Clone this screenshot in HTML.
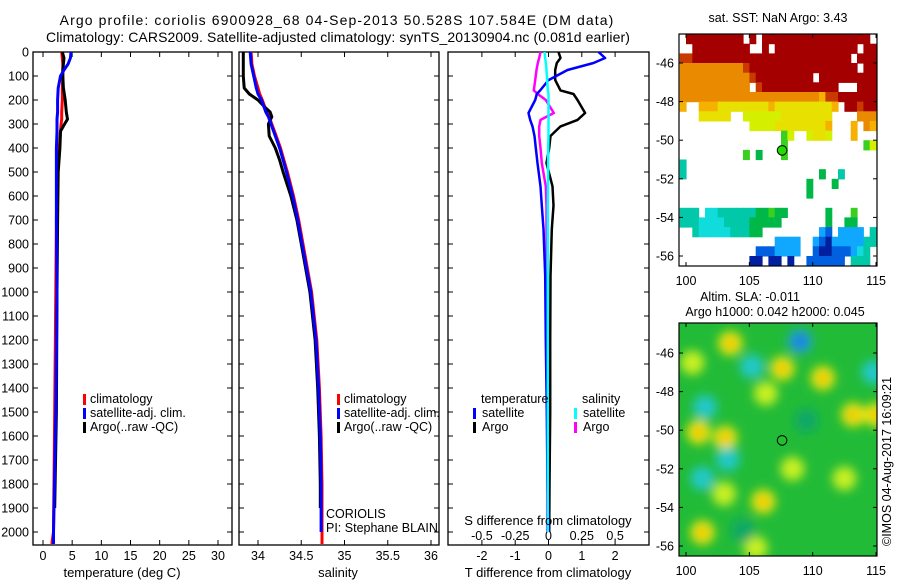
<!DOCTYPE html>
<html><head><meta charset="utf-8">
<style>
html,body{margin:0;padding:0;background:#fff;}
svg{display:block;font-family:"Liberation Sans",sans-serif;}
text{font-size:12.5px;fill:#000;}
</style></head>
<body>
<svg id="fig" width="900" height="580" viewBox="0 0 900 580" xmlns="http://www.w3.org/2000/svg">
<defs>
<filter id="blur" x="-50%" y="-50%" width="200%" height="200%"><feGaussianBlur stdDeviation="5"/></filter>
<clipPath id="clip2"><rect x="679" y="323" width="198" height="233"/></clipPath>
<clipPath id="clip1"><rect x="679" y="34" width="198" height="232"/></clipPath>
</defs>
<text x="337" y="25" text-anchor="middle" style="font-size:14px;letter-spacing:1.1px">Argo profile: coriolis 6900928_68 04-Sep-2013 50.528S 107.584E (DM data)</text>
<text x="338" y="42" text-anchor="middle" style="font-size:14px;letter-spacing:0.1px">Climatology: CARS2009. Satellite-adjusted climatology: synTS_20130904.nc (0.081d earlier)</text>
<g id="layer"></g>
</svg>
<script>
// ---- data ----
const depthT = [0,25,50,75,100,150,200,250,280,300,330,400,500,700,1000,1500,2000,2050];
const climT  = [3.2,3.3,3.4,3.4,3.4,3.3,3.3,3.2,3.2,3.1,3.0,2.8,2.4,2.3,2.2,2.0,1.8,1.5];
const satT   = [4.8,4.7,4.3,3.6,3.0,2.6,2.5,2.5,2.4,2.4,2.4,2.3,2.3,2.3,2.4,2.2,1.8,1.8];
const depthTa= [0,25,50,75,100,150,200,250,280,300,330,400,500,700,1000,1500,1900];
const argoT  = [3.3,3.6,3.5,3.4,3.4,3.5,3.8,4.0,4.2,3.7,3.0,2.9,2.6,2.5,2.4,2.3,2.0];

const depthS = [0,50,100,150,175,200,230,250,270,300,350,400,450,500,600,700,800,1000,1200,1400,1600,1800,2000,2050];
const climS  = [33.92,33.93,33.96,34.0,34.02,34.05,34.08,34.1,34.13,34.16,34.21,34.26,34.3,34.34,34.41,34.47,34.52,34.62,34.68,34.71,34.73,34.74,34.74,34.74];
const satS   = [33.91,33.92,33.95,33.98,34.0,34.04,34.07,34.09,34.12,34.15,34.2,34.25,34.29,34.33,34.4,34.46,34.51,34.61,34.67,34.7,34.72,34.73,34.73,34.73];
const depthSa= [0,50,100,150,175,200,230,250,270,300,350,400,450,500,600,700,800,1000,1200,1400,1600,1800,1900];
const argoS  = [33.83,33.83,33.83,33.84,33.9,34.0,34.08,34.14,34.16,34.12,34.13,34.2,34.25,34.29,34.38,34.45,34.5,34.6,34.66,34.69,34.71,34.72,34.72];

const depthD = [0,25,46,75,117,160,175,200,254,283,310,350,400,463,560,640,738,933,1200,1500,1800,2000];
const satTd  = [1.5,1.7,1.35,0.57,0,-0.25,-0.35,-0.4,-0.6,-0.55,-0.48,-0.42,-0.38,-0.33,-0.24,-0.2,-0.15,-0.1,-0.08,-0.05,-0.03,0];
const argoTd = [0.3,0.36,0.25,0.2,0.2,0.36,0.75,0.87,1.1,0.87,0.36,0.06,0.02,-0.06,0.12,0.15,0.1,0.06,0.05,0.05,0.03,0.02];
const argoSd = [-0.06,-0.07,-0.08,-0.09,-0.1,-0.11,-0.08,-0.02,0.04,-0.06,-0.07,-0.07,-0.06,-0.05,-0.02,-0.015,-0.015,-0.015,-0.01,-0.01,-0.01,-0.01];
const satSd  = [-0.03,-0.025,-0.02,-0.015,-0.01,-0.005,0,0,0,0,0,0,-0.002,-0.003,-0.004,-0.005,-0.005,-0.005,-0.005,-0.005,-0.005,-0.005];

const depthTicks = [0,100,200,300,400,500,600,700,800,900,1000,1100,1200,1300,1400,1500,1600,1700,1800,1900,2000];
const tempTicks = [0,5,10,15,20,25,30];
const salTicks = [34,34.5,35,35.5,36];
const tdTicks = [-2,-1,0,1,2];
const sdTicks = [-0.5,-0.25,0,0.25,0.5];
const sdTickLabels = ["-0.5","-0.25","0","0.25","0.5"];
const latTicks = [-46,-48,-50,-52,-54,-56];
const lonTicks = [100,105,110,115];
const argoLon = 107.584, argoLat = -50.528;

// SST grid rows (0.5 deg lat from -44.5 down, 0.5 deg lon from 99.5)
const sstRows = [
".RRRRRRRRR.R.RRRRRRRRRRRRRRRRR.",
"..RRRRRRRRR..R.RRRRRRRRRRRRR.RR",
"rrRRRRRRRRRRRRRRRRRRRRRRRRR.RRR",
"oooooooooorRRRRRRRRRRRRRRRRR.RR",
"ooooooooooorRRRRRRRRR.RRRRRRRRR",
"ooooooooooo.rRRRRRRRRRRRR...RRR",
"ooooooooooooooooooooooOrrRRRRRR",
"O..OOOyyyyyyyyOyyyyyyyyyO.RRrRR",
"...yyyyy..YYYYYYyyyyyyyy....ooo",
"...........YYYYyyyyyyyyO...O.oO",
"................gY..YyyY...O...",
"................g............gY",
"..........g.G...g.............",
"c..............................",
"c.....................G..c.....",
"....................G...G......",
"....................G..........",
"...............................",
"ccc.CCccccccGGgGG......G...g...",
"cccCCCCccccGGGGG.......G..GG...",
"..cCCCCCcccGG.........bB.bbbb.cc",
"...............bbbb..bBNbbbbbcc",
"............BBBbbbb..BNNBBBbCc.",
"...........NN.NN.N..BBBBBB.ccc."
];
const sstColors = {R:"#a50000",r:"#c83a00",o:"#e98a00",O:"#f5b000",y:"#e8e000",Y:"#d4f000",g:"#3ad020",G:"#00b848",c:"#00c8a8",C:"#10dcdc",b:"#10a8ff",B:"#0060e0",N:"#0020a0"};

// SLA anomaly blobs: lon, lat, value (+ high / - low)
const slaLon = [103.5,109,105.2,107.6,110.8,114.8,106.3,101.5,113.2,115,101,103.1,101.3,103.3,103,106.1,101.3,105.5,108.4,112.5,100.5,109.5,104.5];
const slaLat = [-45.5,-45.4,-46.7,-46.8,-47.3,-47,-48.1,-48.8,-49.2,-49.2,-50.1,-50.4,-52.5,-51.5,-53.3,-53.7,-55.3,-56.1,-52,-52.5,-46.5,-49.5,-55.2];
const slaVal = [2,-2,-1,2,2,-1,1,-1,2,2,2,2,-1.5,-1,1.5,2,2,1.5,1,1,1.5,-0.5,-0.5];

// ---- helpers ----
const NS="http://www.w3.org/2000/svg";
const layer=document.getElementById('layer');
function mk(tag,attrs,parent){const e=document.createElementNS(NS,tag);for(const k in attrs)e.setAttribute(k,attrs[k]);(parent||layer).appendChild(e);return e;}
const Y0=52, Ybot=545, pxPerM=0.24;
const yD = d => Y0 + d*pxPerM;
const xT = t => 43 + t*(175/30);
const xS = s => 258 + (s-34)*86.5;
const xTd = v => 548.5 + v*33.3;
const xSd = v => 548.5 + v*133.2;

function frame(x0,x1,name){
  const r=mk('rect',{x:x0,y:Y0,width:x1-x0,height:Ybot-Y0,fill:'none',stroke:'#000','stroke-width':1.3});
  
  
}
function yTicks(x0,x1,labels){
  depthTicks.forEach(d=>{
    const y=yD(d);
    mk('line',{x1:x0,x2:x0+5,y1:y,y2:y,stroke:'#000'});
    mk('line',{x1:x1,x2:x1-5,y1:y,y2:y,stroke:'#000'});
    if(labels){const t=mk('text',{x:x0-4,y:y+4.5,'text-anchor':'end'});t.textContent=d;
      
      }
  });
}
function xTicksFn(vals,fx,x0,x1,labY,lbls){
  vals.forEach((v,i)=>{const x=fx(v);
    mk('line',{x1:x,x2:x,y1:Ybot,y2:Ybot-5,stroke:'#000'});
    mk('line',{x1:x,x2:x,y1:Y0,y2:Y0+5,stroke:'#000'});
    if(labY){const t=mk('text',{x:x,y:labY,'text-anchor':'middle'});t.textContent=lbls?lbls[i]:v;
      
      }
  });
}
function line(xs,ds,fx,color,w,name){
  const pts=xs.map((v,i)=>fx(v).toFixed(1)+','+yD(ds[i]).toFixed(1)).join(' ');
  const p=mk('polyline',{points:pts,fill:'none',stroke:color,'stroke-width':w,'stroke-linejoin':'round'});
  
  
}
function txt(x,y,s,name,anchor,size){const t=mk('text',{x:x,y:y,'text-anchor':anchor||'start'});if(size)t.style.fontSize=size+'px';t.textContent=s;
  
  
  return t;}
function legMark(x,y,c,name){const r=mk('rect',{x:x,y:y-10,width:3,height:11,fill:c});
  
  }

// ---- panel 1 temperature ----
frame(33,232,'temperature-axes');
yTicks(33,232,true);
xTicksFn(tempTicks,xT,33,232,560);
line(climT,depthT,xT,'#ff0000',3,'temperature-climatology-line');
line(argoT,depthTa,xT,'#000000',3,'temperature-argo-line');
line(satT,depthT,xT,'#0000ff',3,'temperature-satellite-line');
txt(122,577,'temperature (deg C)','x-axis-title-temperature','middle',13);
legMark(83,404,'#ff0000','legend-climatology-marker');txt(90,403,'climatology','legend-climatology');
legMark(83,418,'#0000ff','legend-satellite-marker');txt(90,417,'satellite-adj. clim.','legend-satellite');
legMark(83,432,'#000','legend-argo-marker');txt(90,431,'Argo(..raw -QC)','legend-argo');

// ---- panel 2 salinity ----
frame(239,439,'salinity-axes');
yTicks(239,439,false);
xTicksFn(salTicks,xS,239,439,560);
line(climS,depthS,xS,'#ff0000',3,'salinity-climatology-line');
line(argoS,depthSa,xS,'#000000',3,'salinity-argo-line');
line(satS.slice(0,23),depthS.slice(0,23),xS,'#0000ff',3,'salinity-satellite-line');
txt(338,577,'salinity','x-axis-title-salinity','middle',13);
legMark(337,404,'#ff0000','legend2-climatology-marker');txt(344,403,'climatology','legend2-climatology');
legMark(337,418,'#0000ff','legend2-satellite-marker');txt(344,417,'satellite-adj. clim.','legend2-satellite');
legMark(337,432,'#000','legend2-argo-marker');txt(344,431,'Argo(..raw -QC)','legend2-argo');
txt(326,518,'CORIOLIS','float-agency-label');
txt(326,532,'PI: Stephane BLAIN','float-pi-label');

// ---- panel 3 differences ----
frame(448,649,'difference-axes');
yTicks(448,649,false);
sdTicks.forEach(v=>{const x=xSd(v);mk('line',{x1:x,x2:x,y1:Y0,y2:Y0+5,stroke:'#000'});});
tdTicks.forEach((v,i)=>{const x=xTd(v);mk('line',{x1:x,x2:x,y1:Ybot,y2:Ybot-5,stroke:'#000'});
  const t=mk('text',{x:x,y:560,'text-anchor':'middle'});t.textContent=v;
  
  });
sdTicks.forEach((v,i)=>{const t=mk('text',{x:xSd(v),y:540,'text-anchor':'middle'});t.textContent=sdTickLabels[i];
  
  });
line(argoTd,depthD,xTd,'#000000',2.5,'argo-temperature-difference-line');
line(argoSd,depthD,xSd,'#ff00ff',2.5,'argo-salinity-difference-line');
line(satTd,depthD,xTd,'#0000ff',2.5,'satellite-temperature-difference-line');
line(satSd,depthD,xSd,'#00ffff',2.5,'satellite-salinity-difference-line');
txt(548,525,'S difference from climatology','s-diff-axis-title','middle',13);
txt(548,577,'T difference from climatology','t-diff-axis-title','middle',13);
txt(481,403,'temperature','legend3-temperature-heading');
legMark(473,418,'#0000ff','legend3-t-satellite-marker');txt(482,417,'satellite','legend3-t-satellite');
legMark(473,432,'#000','legend3-t-argo-marker');txt(482,431,'Argo','legend3-t-argo');
txt(582,403,'salinity','legend3-salinity-heading');
legMark(574,418,'#00ffff','legend3-s-satellite-marker');txt(583,417,'satellite','legend3-s-satellite');
legMark(574,432,'#ff00ff','legend3-s-argo-marker');txt(583,431,'Argo','legend3-s-argo');

// ---- maps ----
const lonX = lon => 686 + (lon-100)*12.67;
const lat1Y = lat => 63 + (-46-lat)*19.3;
const lat2Y = lat => 353 + (-46-lat)*19.3;

// SST map
const gSst=mk('g',{'clip-path':'url(#clip1)'});


sstRows.forEach((row,ri)=>{
  const latTop=-44.5-ri*0.5;
  for(let ci=0;ci<row.length;ci++){
    const ch=row[ci]; if(ch==='.')continue;
    const lon=99.5+ci*0.5;
    const x=lonX(lon), y=lat1Y(latTop);
    const r=mk('rect',{x:x.toFixed(1),y:y.toFixed(1),width:6.9,height:10.2,fill:sstColors[ch]},gSst);
    
    
  }
});
function mapFrame(y0,h,latY,name,labY){
  const r=mk('rect',{x:679,y:y0,width:198,height:h,fill:'none',stroke:'#000','stroke-width':1.2});
  
  
  latTicks.forEach(l=>{const y=latY(l);mk('line',{x1:679,x2:683,y1:y,y2:y,stroke:'#000'});mk('line',{x1:877,x2:873,y1:y,y2:y,stroke:'#000'});
    const t=mk('text',{x:674,y:y+4.5,'text-anchor':'end'});t.textContent=l;
    
    });
  lonTicks.forEach(l=>{const x=lonX(l);mk('line',{x1:x,x2:x,y1:y0+h,y2:y0+h-4,stroke:'#000'});mk('line',{x1:x,x2:x,y1:y0,y2:y0+4,stroke:'#000'});
    const t=mk('text',{x:x,y:labY,'text-anchor':'middle'});t.textContent=l;
    
    });
}
mapFrame(34,232,lat1Y,'sst-map-frame',285);
const m1=mk('circle',{cx:lonX(argoLon),cy:lat1Y(argoLat),r:4.8,fill:'#22dd00',stroke:'#000','stroke-width':1});


txt(778,22,'sat. SST: NaN Argo: 3.43','sst-map-title','middle',12.5);

// SLA map
const gSla=mk('g',{'clip-path':'url(#clip2)'});


mk('rect',{x:679,y:323,width:198,height:233,fill:'#22bb38'},gSla);
const gBl=mk('g',{filter:'url(#blur)'},gSla);
slaLon.forEach((lon,i)=>{
  const v=slaVal[i];
  const c = v>=2?'#f0e810':v>=1?'#c8f020':v>=0?'#50d040':v>-1?'#10a868':v>-2?'#20c8c8':'#20a0e0';
  const e=mk('ellipse',{cx:lonX(lon),cy:lat2Y(slaLat[i]),rx:12,ry:12,fill:c},gBl);
  
  
  if(Math.abs(v)>=2){const e2=mk('ellipse',{cx:lonX(lon),cy:lat2Y(slaLat[i]),rx:5,ry:5,fill:v>0?'#f0b000':'#1060e0'},gBl);
    
    }
});
mapFrame(323,233,lat2Y,'sla-map-frame',575);
const m2=mk('circle',{cx:lonX(argoLon),cy:lat2Y(argoLat),r:4.8,fill:'#22c030',stroke:'#000','stroke-width':1});


txt(750,301,'Altim. SLA: -0.011','sla-map-title','middle',12.5);
txt(775,316,'Argo h1000: 0.042 h2000: 0.045','sla-map-subtitle','middle',12.5);
const cp=txt(0,0,'©IMOS 04-Aug-2017 16:09:21','copyright-label','start',12.5);
cp.setAttribute('transform','translate(891,546) rotate(-90)');
</script>
</body></html>
